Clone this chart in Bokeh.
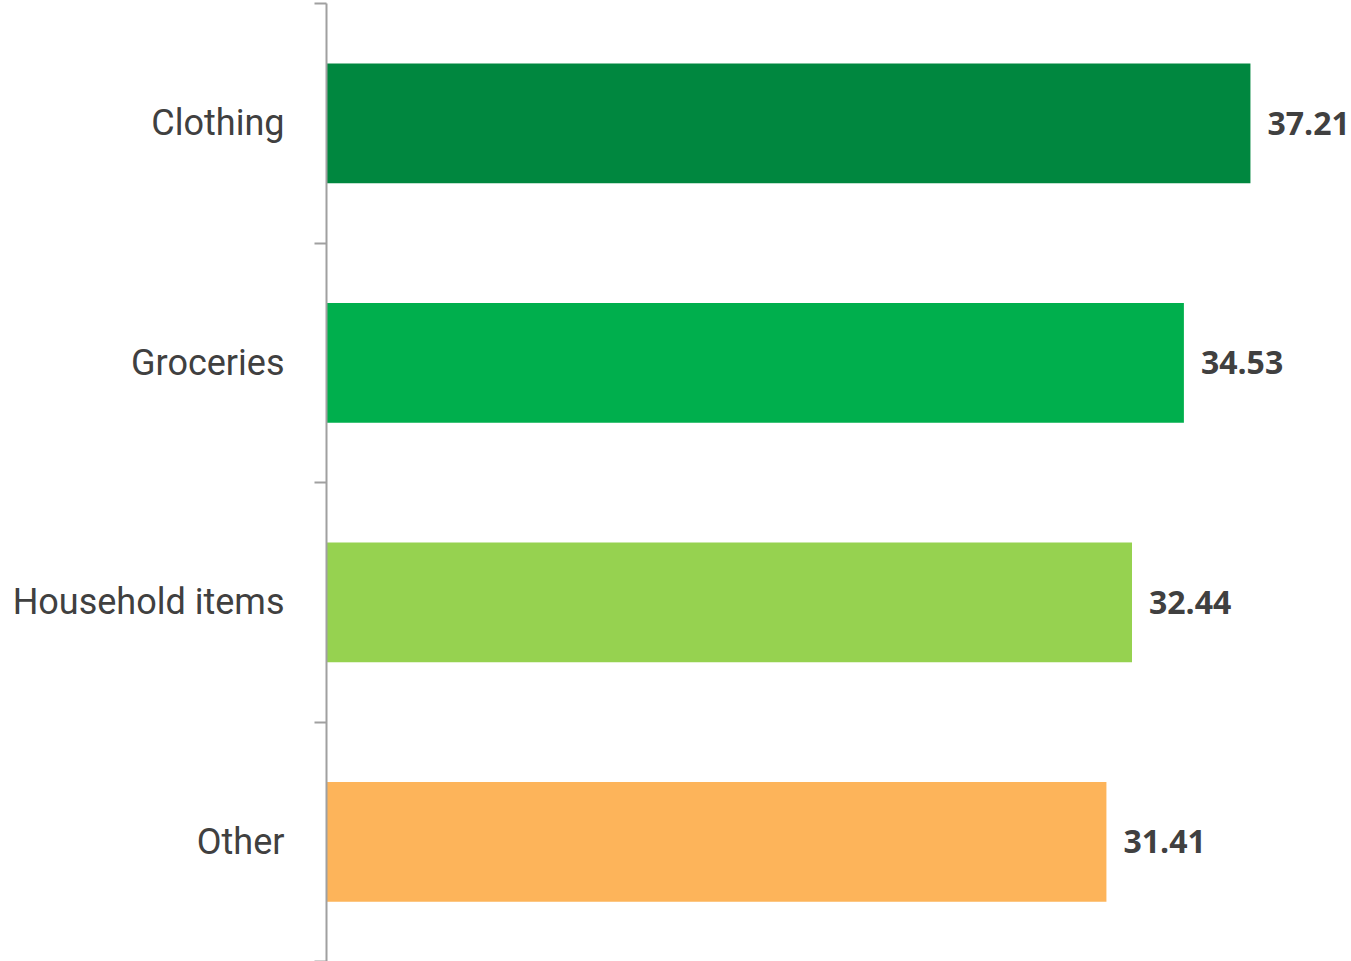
from bokeh.plotting import figure
from bokeh.models import ColumnDataSource, FixedTicker, Range1d
from bokeh.core.properties import value
from bokeh.embed import file_html
from bokeh.resources import INLINE

categories = ["Clothing", "Groceries", "Household items", "Other"]
values = [37.21, 34.53, 32.44, 31.41]
colors = ["#00873F", "#00AF4D", "#96D250", "#FDB45A"]
labels = ["37.21", "34.53", "32.44", "31.41"]

n = len(categories)
ypos = [n - i - 0.5 for i in range(n)]

src = ColumnDataSource(dict(y=ypos, v=values, c=colors, lab=labels, cat=categories))

p = figure(width=1351, height=961, output_backend="svg", toolbar_location=None,
           x_axis_location=None, y_axis_location="left",
           x_range=Range1d(0, 41.28), y_range=Range1d(0, n),
           min_border_left=326, min_border_right=0, min_border_top=3, min_border_bottom=0)
p.outline_line_color = None
p.grid.visible = False
p.background_fill_color = "white"
p.border_fill_color = "white"

p.hbar(y="y", right="v", left=0, height=0.5, fill_color="c", line_color=None, source=src)
p.text(x="v", y="y", text="lab", source=src, x_offset=17, text_align="left", text_baseline="middle",
       text_font=value("Open Sans"), text_font_style="bold", text_font_size="32px", text_color="#404040")

ax = p.yaxis[0]
ax.ticker = FixedTicker(ticks=ypos, minor_ticks=list(range(n + 1)))
ax.major_label_overrides = {y: c for y, c in zip(ypos, categories)}
ax.major_tick_out = 0
ax.major_tick_in = 0
ax.minor_tick_out = 12
ax.minor_tick_in = 0
ax.minor_tick_line_color = "#A0A0A0"
ax.minor_tick_line_width = 2
ax.axis_line_color = "#A0A0A0"
ax.axis_line_width = 2
ax.major_label_standoff = 30
ax.major_label_text_font = "Roboto"
ax.major_label_text_font_size = "36px"
ax.major_label_text_color = "#404040"

open("out.html", "w").write(file_html(p, INLINE))
